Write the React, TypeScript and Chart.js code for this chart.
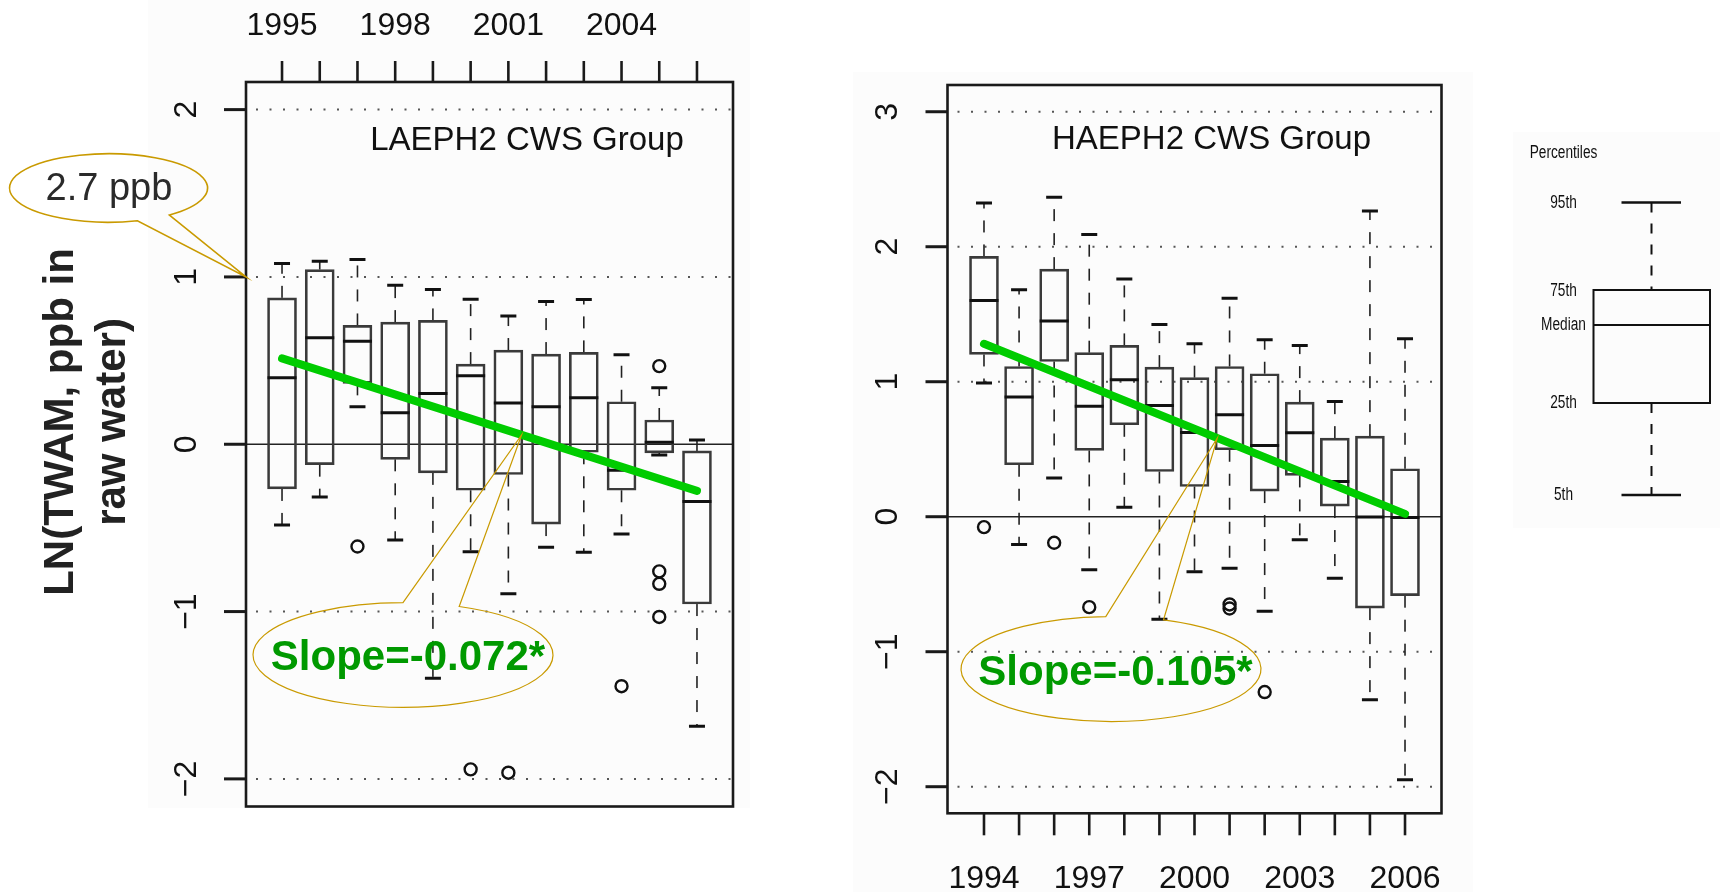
import React, { useEffect, useRef } from 'react';
import { Chart, registerables } from 'chart.js';

Chart.register(...registerables);

const FONT = "'Liberation Sans', Arial, Helvetica, sans-serif";

// ---- LAEPH2 CWS Group (ln of TWAM, ppb) ----
const laYears = [1995, 1996, 1997, 1998, 1999, 2000, 2001, 2002, 2003, 2004, 2005, 2006];
const laLow = [-0.483, -0.316, 0.224, -0.573, -1.399, -0.643, -0.893, -0.615, -0.645, -0.537, -0.064, -1.685];
const laQ1 = [-0.267, -0.122, 0.364, -0.09, -0.171, -0.275, -0.181, -0.477, -0.048, -0.275, -0.052, -0.955];
const laMedian = [0.397, 0.636, 0.616, 0.189, 0.304, 0.409, 0.246, 0.224, 0.278, -0.155, 0.012, -0.342];
const laQ3 = [0.875, 1.044, 0.71, 0.73, 0.74, 0.479, 0.563, 0.539, 0.549, 0.254, 0.145, -0.04];
const laHigh = [1.08, 1.094, 1.104, 0.95, 0.925, 0.867, 0.766, 0.853, 0.865, 0.535, 0.338, 0.026];
const laOutlierYears = [1997, 2000, 2001, 2004, 2005, 2005, 2005, 2005];
const laOutlierValues = [-0.611, -1.943, -1.963, -1.446, 0.467, -0.76, -0.834, -1.032];
const laTrendStart = 0.513;
const laSlope = -0.072;
const laYTicks = [-2, -1, 0, 1, 2];
const laYearLabels = [1995, 1998, 2001, 2004];

// ---- HAEPH2 CWS Group ----
const haYears = [1994, 1995, 1996, 1997, 1998, 1999, 2000, 2001, 2002, 2003, 2004, 2005, 2006];
const haLow = [0.99, -0.205, 0.286, -0.393, 0.071, -0.759, -0.407, -0.381, -0.701, -0.17, -0.455, -1.356, -1.948];
const haQ1 = [1.202, 0.385, 1.15, 0.491, 0.681, 0.335, 0.224, 0.496, 0.19, 0.306, 0.079, -0.677, -0.585];
const haMedian = [1.602, 0.886, 1.449, 0.819, 1.015, 0.824, 0.624, 0.755, 0.528, 0.622, 0.261, -0.003, -0.005];
const haQ3 = [1.928, 1.113, 1.834, 1.215, 1.269, 1.108, 1.03, 1.113, 1.059, 0.849, 0.582, 0.597, 0.355];
const haHigh = [2.323, 1.681, 2.367, 2.091, 1.76, 1.424, 1.281, 1.619, 1.311, 1.269, 0.854, 2.264, 1.318];
const haOutlierYears = [1994, 1996, 1997, 2001, 2001, 2002];
const haOutlierValues = [-0.077, -0.193, -0.67, -0.65, -0.68, -1.299];
const haTrendStart = 1.281;
const haSlope = -0.105;
const haYTicks = [-2, -1, 0, 1, 2, 3];
const haYearLabels = [1994, 1997, 2000, 2003, 2006];

// reference level: ln(2.7 ppb) ~ 1
const refValue = 1;
const refLabel = '2.7 ppb';
const yTitleLines = ['LN(TWAM, ppb in', 'raw water)'];
const legendTitle = 'Percentiles';
const legendLabels = ['95th', '75th', 'Median', '25th', '5th'];

const GOLD = '#c99a00';
const GREEN_LINE = '#00cc00';
const GREEN_TEXT = '#009900';
const PANEL_BG = '#fcfcfc';

function fmtTick(v: number) {
  return v < 0 ? '\u2212' + Math.abs(v) : String(v);
}

function line(ctx: CanvasRenderingContext2D, x1: number, y1: number, x2: number, y2: number) {
  ctx.beginPath();
  ctx.moveTo(x1, y1);
  ctx.lineTo(x2, y2);
  ctx.stroke();
}

function callout(
  ctx: CanvasRenderingContext2D,
  cx: number, cy: number, rx: number, ry: number,
  a1: number, a2: number, tipX: number, tipY: number, lw: number
) {
  const r1 = (a1 * Math.PI) / 180;
  const r2 = (a2 * Math.PI) / 180;
  ctx.save();
  ctx.strokeStyle = GOLD;
  ctx.lineWidth = lw;
  ctx.setLineDash([]);
  ctx.beginPath();
  ctx.ellipse(cx, cy, rx, ry, 0, r2, r1 + Math.PI * 2, false);
  ctx.lineTo(tipX, tipY);
  ctx.closePath();
  ctx.stroke();
  ctx.restore();
}

function narrowText(ctx: CanvasRenderingContext2D, text: string, x: number, y: number, size: number, sx: number) {
  ctx.save();
  ctx.translate(x, y);
  ctx.scale(sx, 1);
  ctx.font = `${size}px ${FONT}`;
  ctx.fillStyle = '#111';
  ctx.textAlign = 'center';
  ctx.textBaseline = 'middle';
  ctx.fillText(text, 0, 0);
  ctx.restore();
}

function boxDatasets(
  years: number[], low: number[], q1: number[], med: number[], q3: number[], high: number[],
  oYears: number[], oVals: number[], trendStart: number, slope: number
): any[] {
  const first = years[0];
  const last = years[years.length - 1];
  return [
    {
      type: 'line',
      label: 'trend',
      data: [
        { x: first, y: trendStart },
        { x: last, y: trendStart + slope * (last - first) },
      ],
      borderColor: GREEN_LINE,
      borderWidth: 8,
      borderCapStyle: 'round',
      pointRadius: 0,
      order: 0,
    },
    {
      type: 'line',
      label: 'outliers',
      data: oYears.map((x, i) => ({ x, y: oVals[i] })),
      showLine: false,
      pointStyle: 'circle',
      pointRadius: 6,
      pointBorderWidth: 2.4,
      borderColor: '#111',
      pointBorderColor: '#111',
      pointBackgroundColor: 'rgba(0,0,0,0)',
      order: 1,
    },
    {
      type: 'line',
      label: 'median',
      data: years.map((x, i) => ({ x, y: med[i] })),
      showLine: false,
      pointStyle: 'line',
      pointRadius: 14.5,
      pointBorderWidth: 3,
      borderColor: '#111',
      pointBorderColor: '#111',
      order: 2,
    },
    {
      type: 'line',
      label: 'caps',
      data: [
        ...years.map((x, i) => ({ x, y: high[i] })),
        ...years.map((x, i) => ({ x, y: low[i] })),
      ],
      showLine: false,
      pointStyle: 'line',
      pointRadius: 8,
      pointBorderWidth: 3,
      borderColor: '#111',
      pointBorderColor: '#111',
      order: 3,
    },
    {
      type: 'bar',
      label: 'box',
      data: years.map((x, i) => ({ x, y: [q1[i], q3[i]] })),
      backgroundColor: 'rgba(0,0,0,0)',
      borderColor: '#3a3a3a',
      borderWidth: 2,
      borderSkipped: false,
      barThickness: 29,
      order: 4,
    },
  ];
}

function drawGridAndWhiskers(chart: any, yTicks: number[], years: number[], low: number[], q1: number[], q3: number[], high: number[]) {
  const ctx: CanvasRenderingContext2D = chart.ctx;
  const ca = chart.chartArea;
  const xs = chart.scales.x;
  const ys = chart.scales.y;
  ctx.save();
  // dotted reference lines
  ctx.strokeStyle = '#555';
  ctx.lineWidth = 2;
  ctx.setLineDash([2, 11.5]);
  yTicks.forEach((v) => {
    if (v === 0) return;
    const y = ys.getPixelForValue(v);
    line(ctx, ca.left + 10, y, ca.right, y);
  });
  // solid zero line
  ctx.setLineDash([]);
  ctx.strokeStyle = '#222';
  ctx.lineWidth = 1.5;
  const y0 = ys.getPixelForValue(0);
  line(ctx, ca.left, y0, ca.right, y0);
  // dashed whiskers
  ctx.setLineDash([12, 12]);
  ctx.lineWidth = 1.6;
  ctx.strokeStyle = '#222';
  years.forEach((yr, i) => {
    const x = xs.getPixelForValue(yr);
    line(ctx, x, ys.getPixelForValue(q3[i]), x, ys.getPixelForValue(high[i]));
    line(ctx, x, ys.getPixelForValue(q1[i]), x, ys.getPixelForValue(low[i]));
  });
  ctx.restore();
}

function drawFrame(chart: any, yTicks: number[], years: number[], yearLabels: number[], side: 'top' | 'bottom', yLabelX: number) {
  const ctx: CanvasRenderingContext2D = chart.ctx;
  const ca = chart.chartArea;
  const xs = chart.scales.x;
  const ys = chart.scales.y;
  ctx.save();
  ctx.setLineDash([]);
  ctx.strokeStyle = '#1a1a1a';
  ctx.lineWidth = 2.6;
  ctx.strokeRect(ca.left, ca.top, ca.right - ca.left, ca.bottom - ca.top);
  // y ticks and rotated labels
  ctx.lineWidth = 3;
  ctx.fillStyle = '#111';
  ctx.font = `32px ${FONT}`;
  yTicks.forEach((v) => {
    const y = ys.getPixelForValue(v);
    line(ctx, ca.left - 22, y, ca.left, y);
    ctx.save();
    ctx.translate(yLabelX, y);
    ctx.rotate(-Math.PI / 2);
    ctx.textAlign = 'center';
    ctx.textBaseline = 'middle';
    ctx.fillText(fmtTick(v), 0, 0);
    ctx.restore();
  });
  // year ticks
  ctx.lineWidth = 2.6;
  ctx.textAlign = 'center';
  ctx.textBaseline = 'alphabetic';
  years.forEach((yr) => {
    const x = xs.getPixelForValue(yr);
    if (side === 'top') line(ctx, x, ca.top, x, ca.top - 21);
    else line(ctx, x, ca.bottom, x, ca.bottom + 22);
  });
  yearLabels.forEach((yr) => {
    const x = xs.getPixelForValue(yr);
    if (side === 'top') ctx.fillText(String(yr), x, 35);
    else ctx.fillText(String(yr), x, 888);
  });
  ctx.restore();
}

function leftConfig(): any {
  const plugin = {
    id: 'laephPanel',
    beforeDraw(chart: any) {
      const ctx = chart.ctx;
      ctx.save();
      ctx.fillStyle = PANEL_BG;
      ctx.fillRect(148, 0, 602, 808);
      ctx.restore();
    },
    beforeDatasetsDraw(chart: any) {
      drawGridAndWhiskers(chart, laYTicks, laYears, laLow, laQ1, laQ3, laHigh);
    },
    afterDatasetsDraw(chart: any) {
      const ctx: CanvasRenderingContext2D = chart.ctx;
      const xs = chart.scales.x;
      const ys = chart.scales.y;
      const ca = chart.chartArea;
      drawFrame(chart, laYTicks, laYears, laYearLabels, 'top', 187);

      ctx.save();
      ctx.fillStyle = '#111';
      ctx.font = `33px ${FONT}`;
      ctx.textAlign = 'center';
      ctx.textBaseline = 'alphabetic';
      ctx.fillText('LAEPH2 CWS Group', 527, 150);

      // axis title
      ctx.fillStyle = '#222';
      ctx.font = `bold 42px ${FONT}`;
      const baselines = [73, 125];
      yTitleLines.forEach((t, i) => {
        ctx.save();
        ctx.translate(baselines[i], 422);
        ctx.rotate(-Math.PI / 2);
        ctx.textAlign = 'center';
        ctx.textBaseline = 'alphabetic';
        ctx.fillText(t, 0, 0);
        ctx.restore();
      });

      // reference level callout
      callout(ctx, 108.5, 188, 99, 34.3, 52, 73, ca.left, ys.getPixelForValue(refValue), 1.6);
      ctx.fillStyle = '#2a2a2a';
      ctx.font = `38px ${FONT}`;
      ctx.textAlign = 'center';
      ctx.fillText(refLabel, 109, 200);

      // slope callout
      const tipYear = 2001.35;
      const tipVal = laTrendStart + laSlope * (tipYear - laYears[0]);
      callout(ctx, 403, 655, 150, 52.3, -90, -68, xs.getPixelForValue(tipYear), ys.getPixelForValue(tipVal), 1.2);
      ctx.fillStyle = GREEN_TEXT;
      ctx.font = `bold 42px ${FONT}`;
      ctx.fillText(`Slope=${laSlope.toFixed(3)}*`, 408, 670);
      ctx.restore();
    },
  };
  return {
    type: 'bar',
    data: {
      datasets: boxDatasets(laYears, laLow, laQ1, laMedian, laQ3, laHigh, laOutlierYears, laOutlierValues, laTrendStart, laSlope),
    },
    options: {
      responsive: false,
      animation: false,
      events: [],
      layout: { padding: { left: 246, top: 82, right: 27, bottom: 85.5 } },
      plugins: { legend: { display: false }, tooltip: { enabled: false }, title: { display: false } },
      scales: {
        x: { type: 'linear', min: 1994.045, max: 2006.955, display: false, offset: false },
        y: { type: 'linear', min: -2.165, max: 2.165, display: false },
      },
    },
    plugins: [plugin],
  };
}

function rightConfig(): any {
  const plugin = {
    id: 'haephPanel',
    beforeDraw(chart: any) {
      const ctx = chart.ctx;
      ctx.save();
      ctx.fillStyle = PANEL_BG;
      ctx.fillRect(93, 72, 620, 820);
      ctx.fillRect(753, 132, 207, 396);
      ctx.restore();
    },
    beforeDatasetsDraw(chart: any) {
      drawGridAndWhiskers(chart, haYTicks, haYears, haLow, haQ1, haQ3, haHigh);
    },
    afterDatasetsDraw(chart: any) {
      const ctx: CanvasRenderingContext2D = chart.ctx;
      const xs = chart.scales.x;
      const ys = chart.scales.y;
      drawFrame(chart, haYTicks, haYears, haYearLabels, 'bottom', 128);

      ctx.save();
      ctx.fillStyle = '#111';
      ctx.font = `33px ${FONT}`;
      ctx.textAlign = 'center';
      ctx.textBaseline = 'alphabetic';
      ctx.fillText('HAEPH2 CWS Group', 451.5, 148.5);

      // slope callout
      const tipYear = 2000.65;
      const tipVal = haTrendStart + haSlope * (tipYear - haYears[0]);
      callout(ctx, 351, 669, 150, 52.5, -92, -69.5, xs.getPixelForValue(tipYear), ys.getPixelForValue(tipVal), 1.2);
      ctx.fillStyle = GREEN_TEXT;
      ctx.font = `bold 42px ${FONT}`;
      ctx.fillText(`Slope=${haSlope.toFixed(3)}*`, 355.5, 685);

      // percentile key
      const cx = 891.5;
      const ys5 = [202.5, 290, 325, 403, 495];
      ctx.strokeStyle = '#111';
      ctx.lineWidth = 2;
      ctx.setLineDash([10, 11]);
      line(ctx, cx, ys5[0], cx, ys5[1]);
      line(ctx, cx, ys5[3], cx, ys5[4]);
      ctx.setLineDash([]);
      ctx.strokeRect(833.5, ys5[1], 116.5, ys5[3] - ys5[1]);
      line(ctx, 833.5, ys5[2], 950, ys5[2]);
      ctx.lineWidth = 2.4;
      line(ctx, 861.5, ys5[0], 921, ys5[0]);
      line(ctx, 861.5, ys5[4], 921, ys5[4]);
      ctx.restore();

      narrowText(ctx, legendTitle, 803.5, 153, 18, 0.76);
      const labelY = [202.7, 291, 325.3, 403.3, 495];
      legendLabels.forEach((t, i) => narrowText(ctx, t, 803.5, labelY[i], 18, 0.76));
    },
  };
  return {
    type: 'bar',
    data: {
      datasets: boxDatasets(haYears, haLow, haQ1, haMedian, haQ3, haHigh, haOutlierYears, haOutlierValues, haTrendStart, haSlope),
    },
    options: {
      responsive: false,
      animation: false,
      events: [],
      layout: { padding: { left: 187.5, top: 85, right: 278.5, bottom: 78.7 } },
      plugins: { legend: { display: false }, tooltip: { enabled: false }, title: { display: false } },
      scales: {
        x: { type: 'linear', min: 1992.96, max: 2007.04, display: false, offset: false },
        y: { type: 'linear', min: -2.197, max: 3.198, display: false },
      },
    },
    plugins: [plugin],
  };
}

export default function App() {
  const leftRef = useRef<HTMLCanvasElement>(null);
  const rightRef = useRef<HTMLCanvasElement>(null);

  useEffect(() => {
    const a = new Chart(leftRef.current as HTMLCanvasElement, leftConfig());
    const b = new Chart(rightRef.current as HTMLCanvasElement, rightConfig());
    return () => {
      a.destroy();
      b.destroy();
    };
  }, []);

  return (
    <div style={{ position: 'fixed', left: 0, top: 0, width: 1720, height: 892, background: '#fff', overflow: 'hidden' }}>
      <canvas ref={leftRef} width={760} height={892} style={{ position: 'absolute', left: 0, top: 0, width: 760, height: 892 }} />
      <canvas ref={rightRef} width={960} height={892} style={{ position: 'absolute', left: 760, top: 0, width: 960, height: 892 }} />
    </div>
  );
}
